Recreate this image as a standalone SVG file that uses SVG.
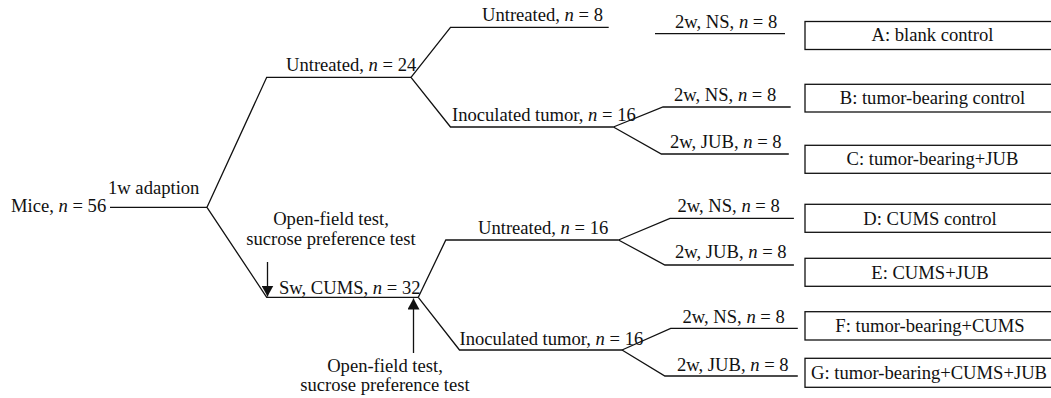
<svg xmlns="http://www.w3.org/2000/svg" width="1051" height="398" viewBox="0 0 1051 398">
<style>
  .t text { font-size: 18.6px; fill: #111; }
  .c { text-anchor: middle; }
  .i { font-style: italic; }
  .ln { fill: none; stroke: #111; stroke-width: 1.3; }
  .box { fill: #fff; stroke: #111; stroke-width: 1.3; }
</style>
<defs>
  <marker id="ah" markerUnits="userSpaceOnUse" markerWidth="13" markerHeight="12" refX="11" refY="6" orient="auto">
    <path d="M0,0 L11,6 L0,12 Z" fill="#111"/>
  </marker>
</defs>
<rect width="1051" height="398" fill="#fff"/>
<g id="connectors">
  <polyline class="ln" points="110,207.3 207,207.3"/>
  <polyline class="ln" points="207,207.3 266.7,77.3 411,77.3"/>
  <polyline class="ln" points="207,207.3 266.7,297.3 418.3,297.3"/>
  <polyline class="ln" points="411,77.3 450.5,27.3 608.7,27.3"/>
  <polyline class="ln" points="411,77.3 450.5,127 613.4,127"/>
  <polyline class="ln" points="655,33.7 785,33.7"/>
  <polyline class="ln" points="613.4,127 663,107 790.7,107"/>
  <polyline class="ln" points="613.4,127 661.4,154 788.8,154"/>
  <polyline class="ln" points="418.3,297.3 445.8,240 618.5,240"/>
  <polyline class="ln" points="418.3,297.3 459.5,350 622,350"/>
  <polyline class="ln" points="618.5,240 670,218.3 793.9,218.3"/>
  <polyline class="ln" points="618.5,240 664.9,265 793.9,265"/>
  <polyline class="ln" points="622,350 670.7,328.3 797.8,328.3"/>
  <polyline class="ln" points="622,350 664.9,376 797.8,376"/>
  <line class="ln" x1="267.5" y1="262" x2="267.5" y2="296.5" marker-end="url(#ah)"/>
  <line class="ln" x1="413.5" y1="353" x2="413.5" y2="298.5" marker-end="url(#ah)"/>
</g>
<g class="t" font-family="Liberation Serif, Times New Roman, serif">
<g id="mice"><text x="11" y="212">Mice, <tspan class="i">n</tspan> = 56</text></g>
<g id="adaption"><text x="108" y="194">1w adaption</text></g>
<g id="untreated24"><text x="286" y="71">Untreated, <tspan class="i">n</tspan> = 24</text></g>
<g id="cums32"><text x="279" y="294">Sw, CUMS, <tspan class="i">n</tspan> = 32</text></g>
<g id="test-upper"><text class="c" x="331" y="225">Open-field test,</text><text class="c" x="331" y="245">sucrose preference test</text></g>
<g id="test-lower"><text class="c" x="385" y="372">Open-field test,</text><text class="c" x="385" y="391">sucrose preference test</text></g>
<g id="untreated8"><text x="482" y="21">Untreated, <tspan class="i">n</tspan> = 8</text></g>
<g id="inoculated16a"><text x="452" y="121">Inoculated tumor, <tspan class="i">n</tspan> = 16</text></g>
<g id="untreated16"><text x="478" y="234">Untreated, <tspan class="i">n</tspan> = 16</text></g>
<g id="inoculated16b"><text x="459.5" y="344.5">Inoculated tumor, <tspan class="i">n</tspan> = 16</text></g>
<g id="ns-a"><text x="675" y="28">2w, NS, <tspan class="i">n</tspan> = 8</text></g>
<g id="ns-b"><text x="674" y="101">2w, NS, <tspan class="i">n</tspan> = 8</text></g>
<g id="jub-c"><text x="670" y="148">2w, JUB, <tspan class="i">n</tspan> = 8</text></g>
<g id="ns-d"><text x="677.5" y="212">2w, NS, <tspan class="i">n</tspan> = 8</text></g>
<g id="jub-e"><text x="675" y="258">2w, JUB, <tspan class="i">n</tspan> = 8</text></g>
<g id="ns-f"><text x="682.5" y="322.5">2w, NS, <tspan class="i">n</tspan> = 8</text></g>
<g id="jub-g"><text x="677" y="370.5">2w, JUB, <tspan class="i">n</tspan> = 8</text></g>
<g id="A"><rect class="box" x="805" y="21.5" width="260" height="28"/><text class="c" x="932.5" y="41">A: blank control</text></g>
<g id="B"><rect class="box" x="805" y="84.3" width="260" height="27.7"/><text class="c" x="932.5" y="104">B: tumor-bearing control</text></g>
<g id="C"><rect class="box" x="805" y="145.3" width="260" height="28"/><text class="c" x="932.5" y="165">C: tumor-bearing+JUB</text></g>
<g id="D"><rect class="box" x="805" y="204.3" width="260" height="28"/><text class="c" x="930" y="224.5">D: CUMS control</text></g>
<g id="E"><rect class="box" x="805" y="258.3" width="260" height="28"/><text class="c" x="930" y="278.5">E: CUMS+JUB</text></g>
<g id="F"><rect class="box" x="805" y="311.7" width="260" height="28.3"/><text class="c" x="930" y="332">F: tumor-bearing+CUMS</text></g>
<g id="G"><rect class="box" x="805" y="358.3" width="260" height="29"/><text class="c" x="929" y="378.5">G: tumor-bearing+CUMS+JUB</text></g>
</g>
</svg>
